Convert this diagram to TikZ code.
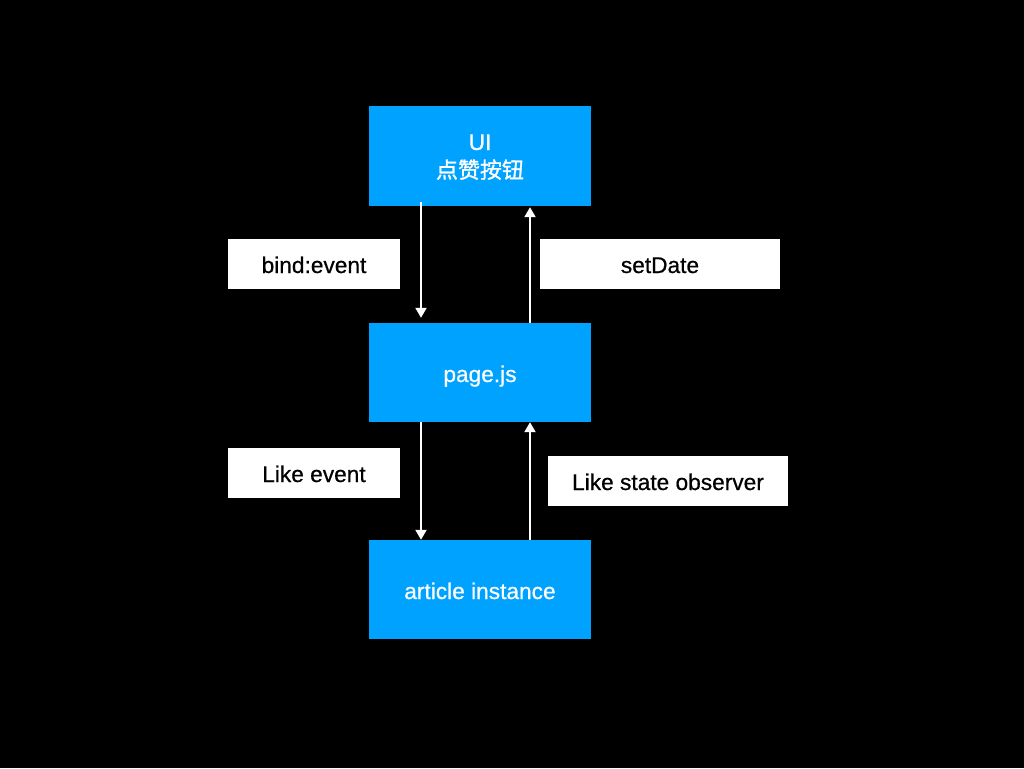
\documentclass[tikz,border=0pt]{standalone}
\usepackage{fontspec}
\setmainfont{Liberation Sans}[FakeBold=0.6]
\newfontfamily\cjk{Noto Sans CJK SC}[FakeBold=1.2]
\usetikzlibrary{arrows.meta}
\definecolor{kblue}{RGB}{0,162,255}
\tikzset{
  bluebox/.style={fill=kblue, draw=none, minimum width=222pt, minimum height=99pt, inner sep=0pt, text=white, align=center, text height=19pt, text depth=0pt, font=\fontsize{22.7}{28}\selectfont},
  lblbox/.style={fill=white, draw=none, minimum height=50pt, inner sep=0pt, text=black, text height=18pt, text depth=0pt, font=\fontsize{22.7}{28}\selectfont},
  arr/.style={draw=white, line width=2pt, -{Triangle[width=11pt,length=10pt]}}
}
\begin{document}
\begin{tikzpicture}[x=1pt,y=-1pt]
\fill[black] (0,0) rectangle (1024,768);
\useasboundingbox (0,0) rectangle (1024,768);
\node[bluebox, minimum height=100pt, text height=0pt, text depth=12pt] (ui) at (480,156) {\begin{tabular}[t]{@{}c@{}}UI\\{\cjk\fontsize{22}{28}\selectfont 点赞按钮}\end{tabular}};
\node[bluebox] (page) at (480,372.5) {page.js};
\node[bluebox] (art) at (480,589.5) {article instance};
\node[lblbox, minimum width=172pt] (bind) at (314,264) {bind:event};
\node[lblbox, minimum width=240pt] (setd) at (660,264) {setDate};
\node[lblbox, minimum width=172pt] (like) at (314,473) {Like event};
\node[lblbox, minimum width=240pt] (obs) at (668,481) {Like state observer};
\draw[arr, shorten <=-4pt, shorten >=5pt] ([xshift=-59pt]ui.south) -- ([xshift=-59pt]page.north);
\draw[arr, shorten >=1pt] ([xshift=50pt]page.north) -- ([xshift=50pt]ui.south);
\draw[arr] ([xshift=-59pt]page.south) -- ([xshift=-59pt]art.north);
\draw[arr] ([xshift=50pt]art.north) -- ([xshift=50pt]page.south);
\end{tikzpicture}
\end{document}
